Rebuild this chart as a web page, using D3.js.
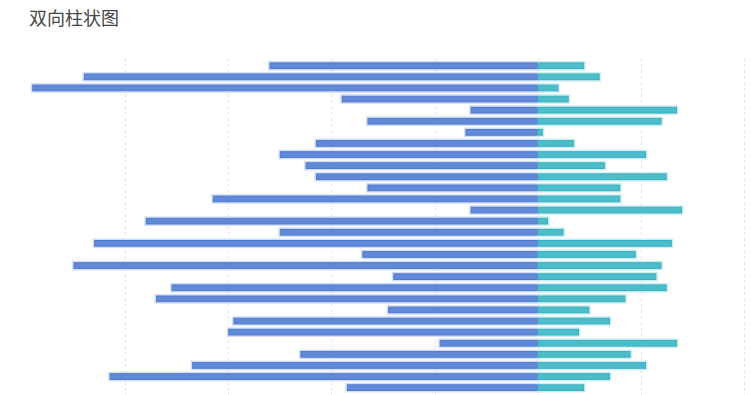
<!DOCTYPE html>
<html>
<head>
<meta charset="utf-8">
<script src="https://cdn.jsdelivr.net/npm/d3@7"></script>
<style>
  html, body { margin: 0; padding: 0; background: #fff; overflow: hidden; }
  svg { display: block; font-family: "Noto Sans CJK SC", "Noto Sans", sans-serif; }
</style>
</head>
<body>
<svg id="chart" width="751" height="395"></svg>
<script>
// one row per bar, top to bottom
const rows = d3.range(1, 31).map(i => "项目" + i);
const leftValues = [-260, -440, -490, -190, -65, -165, -70, -215, -250, -225,
                    -215, -165, -315, -65, -380, -250, -430, -170, -450, -140,
                    -355, -370, -145, -295, -300, -95, -230, -335, -415, -185];
const rightValues = [45, 60, 20, 30, 135, 120, 5, 35, 105, 65,
                     125, 80, 80, 140, 10, 25, 130, 95, 120, 115,
                     125, 85, 50, 70, 40, 135, 90, 105, 70, 45];
const gridTicks = [-400, -300, -200, -100, 0, 100, 200];

const svg = d3.select("#chart");

var x = d3.scaleLinear().domain([-500, 200]).range([22, 744]);
var y = d3.scaleBand().domain(rows).range([60.2, 393.2])
    .paddingInner(0.4).paddingOuter(0.2);

// title
svg.append("text")
    .attr("x", 29)
    .attr("y", 25)
    .attr("font-size", 18)
    .attr("fill", "#464646")
    .text("双向柱状图");

// dashed vertical grid
svg.append("g")
    .selectAll("line")
    .data(gridTicks)
    .enter()
    .append("line")
        .attr("x1", d => Math.round(x(d)) + 0.5)
        .attr("x2", d => Math.round(x(d)) + 0.5)
        .attr("y1", 58)
        .attr("y2", 395)
        .attr("stroke", "#e3e3e3")
        .attr("stroke-dasharray", "3,3");

var series = [
    { values: leftValues, fill: "#6189d8", stroke: "#4d79d0", halo: "#d3def5" },
    { values: rightValues, fill: "#4dbdca", stroke: "#36b0c1", halo: "#cdedf1" }
];
series.forEach(s => { s.data = s.values.map((v, i) => ({ row: rows[i], v: v })); });

function barX(d) { return Math.min(x(0), x(d.v)); }
function barW(d) { return Math.abs(x(d.v) - x(0)); }

// soft outer glow first, so it never covers the other side's bar
series.forEach(s => {
    svg.append("g")
        .selectAll("rect")
        .data(s.data)
        .enter()
        .append("rect")
            .attr("x", barX)
            .attr("y", d => y(d.row))
            .attr("width", barW)
            .attr("height", y.bandwidth())
            .attr("fill", "none")
            .attr("stroke", s.halo)
            .attr("stroke-width", 3);
});

series.forEach(s => {
    svg.append("g")
        .selectAll("rect")
        .data(s.data)
        .enter()
        .append("rect")
            .attr("x", d => barX(d) + 0.5)
            .attr("y", d => y(d.row) + 0.5)
            .attr("width", d => Math.max(0, barW(d) - 1))
            .attr("height", y.bandwidth() - 1)
            .attr("fill", s.fill)
            .attr("stroke", s.stroke)
            .attr("stroke-width", 1);
});
</script>
</body>
</html>
